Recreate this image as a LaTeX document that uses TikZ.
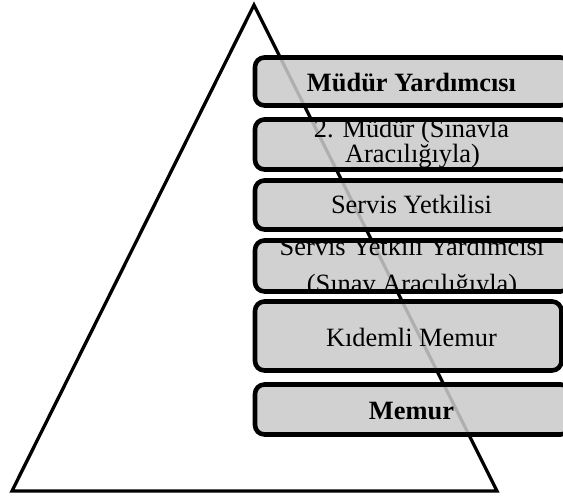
\documentclass[tikz,border=0pt]{standalone}
\usepackage{fontspec}
\setmainfont{Liberation Serif}
\definecolor{tierfill}{RGB}{202,202,202}
\begin{document}
\begin{tikzpicture}[x=1pt,y=1pt,
  tier/.style={draw=black, line width=4.6pt, rounded corners=9.5pt,
    fill=tierfill, fill opacity=0.87, text opacity=1, inner sep=0pt,
    minimum height=#1},
  tierlabel/.style={anchor=base, inner sep=0pt, opacity=1, text opacity=1, fill opacity=1,
    font=\fontsize{26.4}{26.4}\selectfont},
  pyramid/.style={draw=black, line width=3.3pt}]
  % canvas
  \clip (0,0) rectangle (563,497);

  % the pyramid outline
  \coordinate (base-left) at (12,6);
  \coordinate (apex) at (254,492);
  \coordinate (base-right) at (497,6);
  \draw[pyramid] (base-left) -- (apex) -- (base-right) -- cycle;

  % tiers, top to bottom; labels are clipped to the tier they sit in
  \node[tier=48pt, minimum width=315pt,
    path picture={\node[tierlabel] at ([xshift=-1pt,yshift=-10.5pt]path picture bounding box.center)
      {\bfseries Müdür Yardımcısı};}] (t1) at (412.5,415.5) {};
  \node[tier=50pt, minimum width=315pt,
    path picture={
      \node[tierlabel] at ([xshift=-1pt,yshift=6.5pt]path picture bounding box.center) {2. Müdür (Sınavla};
      \node[tierlabel] at ([yshift=-18.5pt]path picture bounding box.center) {Aracılığıyla)};}] (t2) at (412.5,352.5) {};
  \node[tier=49pt, minimum width=315pt,
    path picture={\node[tierlabel] at ([xshift=-1pt,yshift=-8.5pt]path picture bounding box.center)
      {Servis Yetkilisi};}] (t3) at (412.5,292) {};
  \node[tier=51pt, minimum width=315pt,
    path picture={
      \node[tierlabel] at ([xshift=-0.5pt,yshift=10pt]path picture bounding box.center) {Servis Yetkili Yardımcısı};
      \node[tierlabel] at ([xshift=-0.5pt,yshift=-27pt]path picture bounding box.center) {(Sınav Aracılığıyla)};}] (t4) at (412.5,231) {};
  \node[tier=69pt, minimum width=306.5pt,
    path picture={\node[tierlabel] at ([xshift=3.25pt,yshift=-10.7pt]path picture bounding box.center)
      {Kıdemli Memur};}] (t5) at (408.25,161) {};
  \node[tier=50pt, minimum width=315pt,
    path picture={\node[tierlabel] at ([xshift=-1pt,yshift=-10.5pt]path picture bounding box.center)
      {\bfseries Memur};}] (t6) at (412.5,87.5) {};
\end{tikzpicture}
\end{document}
